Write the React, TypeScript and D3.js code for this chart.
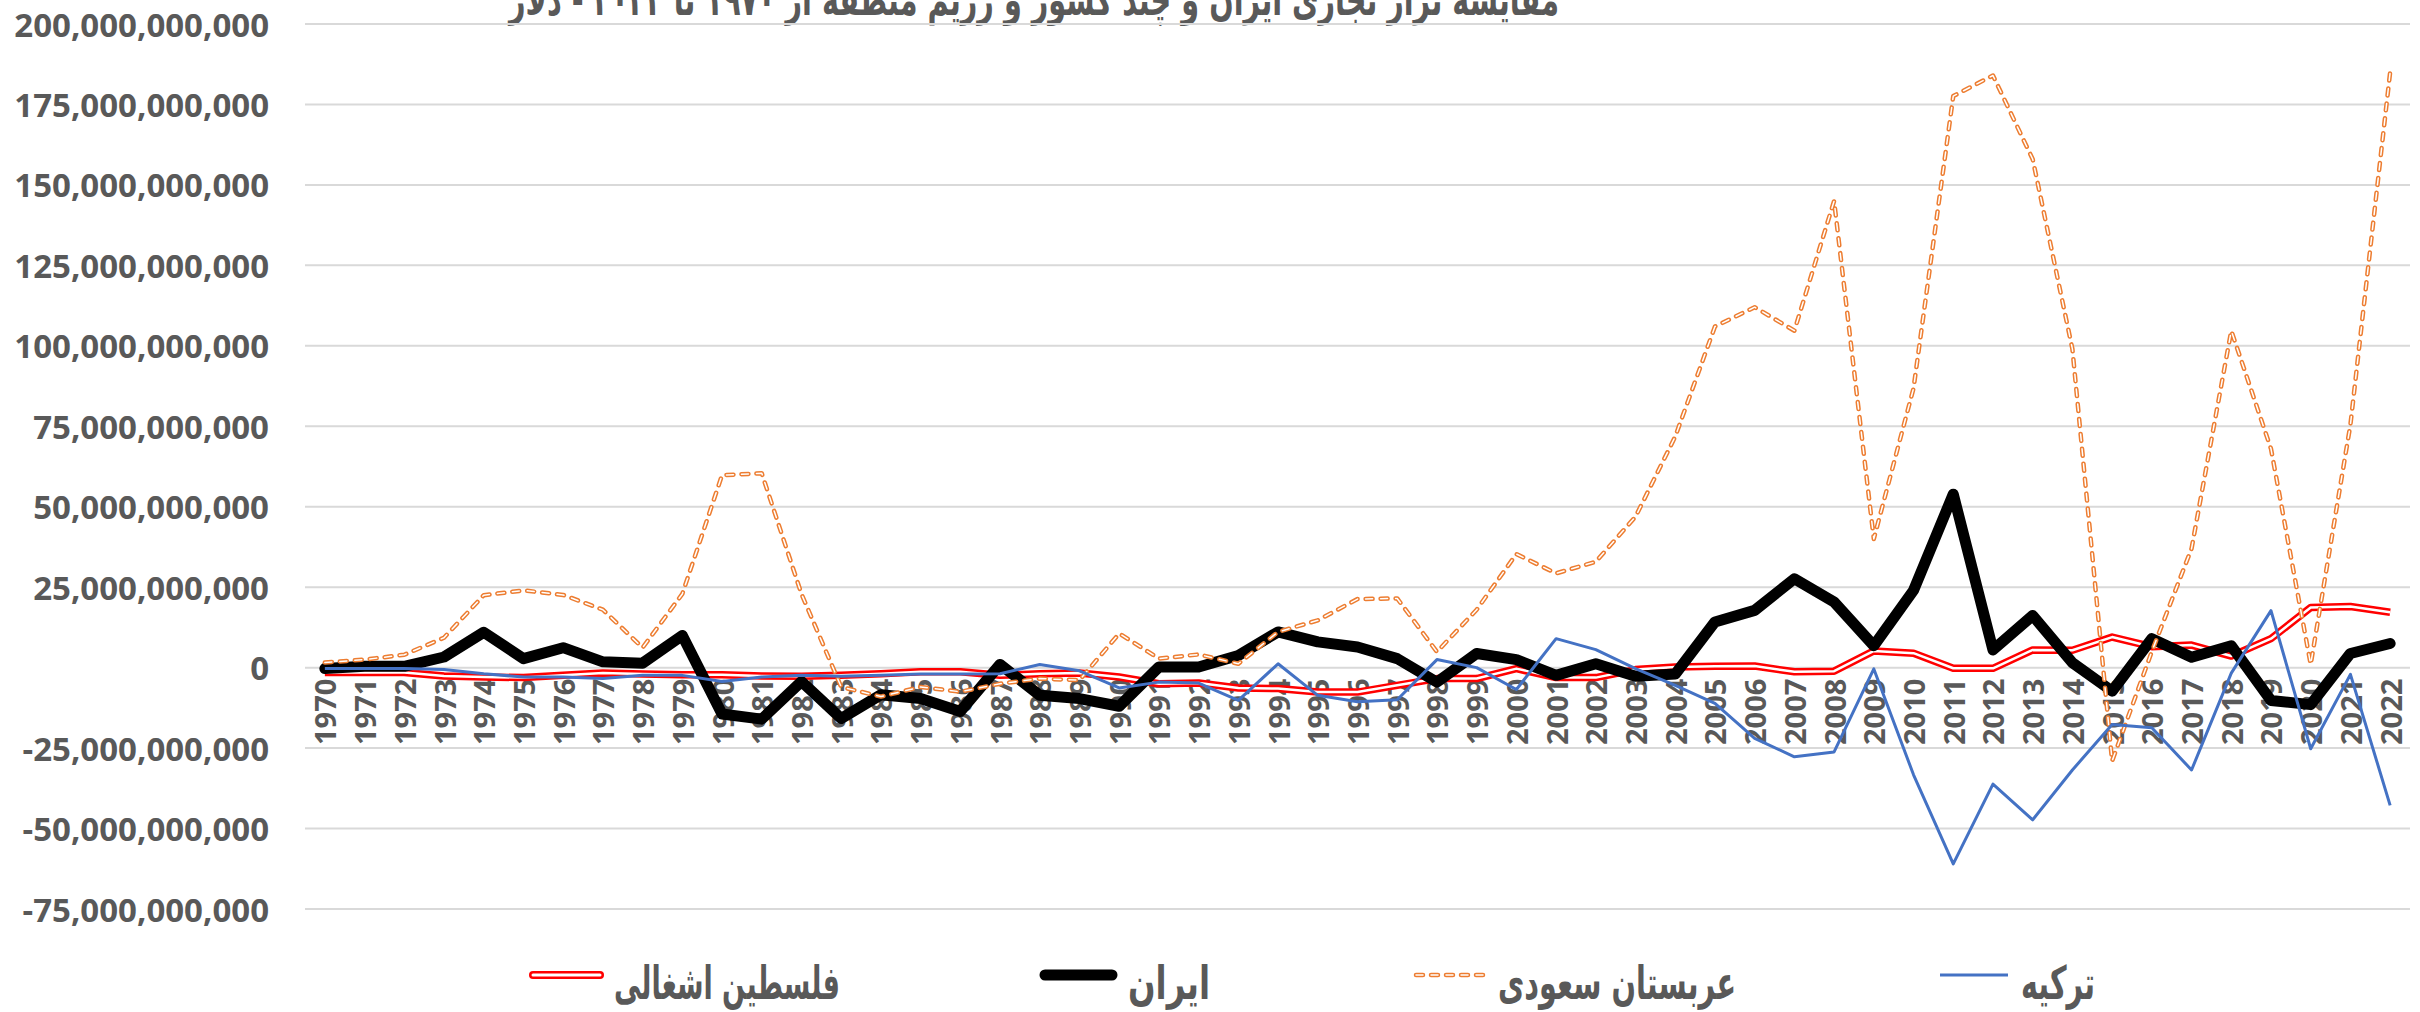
import * as d3 from 'd3';

// categories (years) and tick values
const years = [
  '1970', '1971', '1972', '1973', '1974', '1975', '1976', '1977', '1978', '1979',
  '1980', '1981', '1982', '1983', '1984', '1985', '1986', '1987', '1988', '1989',
  '1990', '1991', '1992', '1993', '1994', '1995', '1996', '1997', '1998', '1999',
  '2000', '2001', '2002', '2003', '2004', '2005', '2006', '2007', '2008', '2009',
  '2010', '2011', '2012', '2013', '2014', '2015', '2016', '2017', '2018', '2019',
  '2020', '2021', '2022',
];
const yTicks = [-75, -50, -25, 0, 25, 50, 75, 100, 125, 150, 175, 200]; // billions

// trade balance, billions of dollars
const israel = [
  -1.5, -1.5, -1.5, -2.6, -2.9, -3.1, -2.4, -1.7, -2.0, -2.2,
  -2.2, -2.6, -2.7, -2.4, -1.9, -1.3, -1.3, -2.4, -1.9, -1.7,
  -2.9, -5.0, -4.8, -6.3, -6.5, -7.6, -7.6, -5.5, -3.4, -3.4,
  -0.3, -3.1, -3.1, -0.6, 0.2, 0.4, 0.5, -1.3, -1.1, 5.2,
  4.5, -0.2, -0.2, 5.5, 5.4, 9.5, 6.5, 7.0, 3.6, 9.0,
  18.7, 19.0, 17.2,
];
const iran = [
  -0.3, 0.4, 0.4, 3.3, 11.0, 2.8, 6.2, 1.8, 1.4, 10.0,
  -14.4, -16.0, -4.3, -15.8, -8.4, -9.6, -13.6, 1.0, -8.6, -9.6,
  -12.0, 0.2, 0.2, 3.8, 11.1, 8.0, 6.4, 2.8, -4.5, 4.4,
  2.5, -2.4, 1.2, -2.7, -2.0, 14.2, 17.8, 27.6, 20.4, 6.8,
  24.0, 53.9, 5.5, 16.2, 1.5, -7.3, 9.0, 3.2, 6.8, -10.2,
  -11.5, 4.4, 7.5,
];
const saudi = [
  1.6, 2.5, 4.0, 9.3, 22.5, 24.0, 22.6, 18.0, 6.2, 22.9,
  59.8, 60.4, 22.9, -6.0, -9.0, -6.0, -7.5, -5.0, -3.4, -3.9,
  10.6, 2.8, 4.1, 1.2, 11.1, 14.7, 21.3, 21.5, 4.9, 18.0,
  35.3, 29.3, 32.9, 46.9, 71.8, 106.0, 112.0, 104.7, 145.0, 40.0,
  86.8, 177.6, 184.0, 158.0, 99.0, -29.0, 5.0, 37.0, 104.7, 68.0,
  1.0, 75.5, 185.0,
];
const turkey = [
  -0.3, -0.3, -0.3, -0.6, -1.9, -2.9, -2.9, -3.4, -2.4, -2.4,
  -4.3, -2.9, -2.4, -2.7, -2.4, -2.0, -2.0, -1.9, 1.0, -1.0,
  -6.3, -4.5, -4.8, -10.2, 1.2, -8.6, -10.6, -10.0, 2.5, 0.0,
  -6.8, 9.0, 5.6, -0.3, -5.5, -11.1, -22.0, -27.7, -26.2, -0.4,
  -33.3, -61.0, -36.2, -47.3, -31.8, -17.7, -18.7, -31.8, -1.7, 17.7,
  -25.2, -2.1, -42.8,
];

const titleText = 'مقایسه تراز تجاری ایران و چند کشور و رژیم منطقه از ۱۹۷۰ تا ۲۰۲۲ - دلار';
const legendNames = ['فلسطین اشغالی', 'ایران', 'عربستان سعودی', 'ترکیه'];

const W = 2420;
const H = 1012;
const margin = { top: 24, right: 10, bottom: 103, left: 305 };
const GRAY = '#595959';
const LATIN = "'Open Sans', 'Liberation Sans', sans-serif";
const ARABIC = "'DejaVu Sans', sans-serif";

export default function App() {
  const x = d3.scaleBand<string>().domain(years).range([margin.left, W - margin.right]);
  const y = d3.scaleLinear().domain([-75e9, 200e9]).range([H - margin.bottom, margin.top]);
  const cx = (yr: string) => (x(yr) || 0) + x.bandwidth() / 2;
  const fmt = (v: number) => d3.format(',')(v).replace('\u2212', '-');

  const line = d3.line<number>()
    .x((_, i) => cx(years[i]))
    .y(d => y(d * 1e9));

  // legend layout: swatch [x0, x1], text centre and width
  const legend = [
    { sw: [533, 600], tx: 727, w: 226 },
    { sw: [1045, 1112], tx: 1169, w: 82 },
    { sw: [1416, 1488], tx: 1617, w: 238 },
    { sw: [1940, 2008], tx: 2058, w: 74 },
  ];
  const ly = 975;

  return (
    <svg width={W} height={H} style={{ position: 'absolute', left: 0, top: 0, background: '#fff' }}>
      {/* title, its top clipped by the frame as in the source */}
      <text x={1034} y={15} textAnchor="middle" direction="rtl" fontFamily={ARABIC} fontWeight="bold"
        fontSize={44} fill={GRAY} textLength={1050} lengthAdjust="spacingAndGlyphs">{titleText}</text>

      {/* gridlines + y labels */}
      {yTicks.map(t => (
        <g key={t}>
          <line x1={margin.left} x2={W - margin.right} y1={y(t * 1e9)} y2={y(t * 1e9)} stroke="#d9d9d9" strokeWidth={2} />
          <text x={269} y={y(t * 1e9)} textAnchor="end" dominantBaseline="central" fontFamily={LATIN}
            fontWeight="bold" fontSize={33} fill={GRAY}>{fmt(t * 1e9)}</text>
        </g>
      ))}

      {/* x labels, rotated, just under zero line */}
      {years.map(yr => (
        <text key={yr} transform={`translate(${cx(yr)},${y(0) + 11}) rotate(-90)`} textAnchor="end"
          dominantBaseline="central" fontFamily={LATIN} fontWeight="bold" fontSize={29} fill={GRAY}>{yr}</text>
      ))}

      {/* series */}
      <path d={line(israel) || ''} fill="none" stroke="#ff0000" strokeWidth={7.5} strokeLinejoin="round" />
      <path d={line(israel) || ''} fill="none" stroke="#ffffff" strokeWidth={2.5} strokeLinejoin="round" />
      <path d={line(iran) || ''} fill="none" stroke="#000000" strokeWidth={11} strokeLinejoin="round" strokeLinecap="round" />
      <path d={line(saudi) || ''} fill="none" stroke="#ed7d31" strokeWidth={4.5} strokeDasharray="7 8"
        strokeLinecap="round" strokeLinejoin="round" />
      <path d={line(saudi) || ''} fill="none" stroke="#ffffff" strokeWidth={1.5} strokeDasharray="7 8"
        strokeLinecap="round" strokeLinejoin="round" />
      <path d={line(turkey) || ''} fill="none" stroke="#4472c4" strokeWidth={3} strokeLinejoin="round" />

      {/* legend */}
      <g>
        <line x1={legend[0].sw[0]} x2={legend[0].sw[1]} y1={ly} y2={ly} stroke="#ff0000" strokeWidth={8} strokeLinecap="round" />
        <line x1={legend[0].sw[0]} x2={legend[0].sw[1]} y1={ly} y2={ly} stroke="#fff" strokeWidth={3} strokeLinecap="round" />
        <line x1={legend[1].sw[0]} x2={legend[1].sw[1]} y1={ly} y2={ly} stroke="#000" strokeWidth={11} strokeLinecap="round" />
        <line x1={legend[2].sw[0]} x2={legend[2].sw[1]} y1={ly} y2={ly} stroke="#ed7d31" strokeWidth={4.5}
          strokeDasharray="7 8" strokeLinecap="round" />
        <line x1={legend[2].sw[0]} x2={legend[2].sw[1]} y1={ly} y2={ly} stroke="#fff" strokeWidth={1.5}
          strokeDasharray="7 8" strokeLinecap="round" />
        <line x1={legend[3].sw[0]} x2={legend[3].sw[1]} y1={ly} y2={ly} stroke="#4472c4" strokeWidth={3} />
        {legend.map((l, i) => (
          <text key={i} x={l.tx} y={ly + 8} textAnchor="middle" direction="rtl" dominantBaseline="central"
            fontFamily={ARABIC} fontWeight="bold" fontSize={46} fill={GRAY}
            textLength={l.w} lengthAdjust="spacingAndGlyphs">{legendNames[i]}</text>
        ))}
      </g>
    </svg>
  );
}
